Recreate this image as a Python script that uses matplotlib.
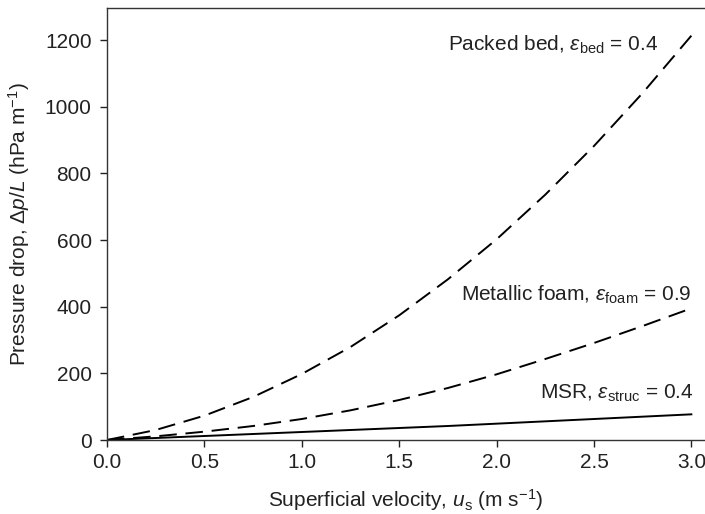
import matplotlib
matplotlib.use("Agg")
import matplotlib.pyplot as plt
import numpy as np

plt.rcParams['font.family'] = ['Liberation Sans', 'DejaVu Sans']
plt.rcParams['mathtext.fontset'] = 'custom'
plt.rcParams['mathtext.rm'] = 'Liberation Sans'
plt.rcParams['mathtext.it'] = 'Liberation Sans:italic'
plt.rcParams['mathtext.bf'] = 'Liberation Sans:bold'

velocity = [0.0, 0.25, 0.5, 0.75, 1.0, 1.25, 1.5, 1.75, 2.0, 2.25, 2.5, 2.75, 3.0]
packed_bed = [0, 30, 73, 129, 198, 279, 374, 482, 602, 736, 882, 1041, 1213]
metallic_foam = [0, 11, 25, 42, 63, 89, 120, 156, 197, 243, 291, 342, 395]
msr = [0, 6, 12, 18, 24, 30, 36, 42, 49, 56, 63, 70, 77]

x_ticks = [0.0, 0.5, 1.0, 1.5, 2.0, 2.5, 3.0]
y_ticks = [0, 200, 400, 600, 800, 1000, 1200]

FS = 15
TXT = '#222222'

fig = plt.figure(figsize=(7.05, 5.14), dpi=100)
ax = fig.add_axes([107/705, 74/514, 1 - 107/705, (440 - 8)/514])

ax.plot(velocity, packed_bed, color='black', lw=1.4, dashes=(9, 4.5))
ax.plot(velocity, metallic_foam, color='black', lw=1.4, dashes=(9, 4.5))
ax.plot(velocity, msr, color='black', lw=1.4)

ax.set_xlim(0, 3.07)
ax.set_ylim(0, 1296)
ax.set_xticks(x_ticks)
ax.set_xticklabels([f"{v:.1f}" for v in x_ticks])
ax.set_yticks(y_ticks)
ax.tick_params(direction='out', length=5, width=1, labelsize=FS, colors=TXT)
ax.tick_params(axis='x', pad=4)
ax.tick_params(axis='y', pad=6)
ax.spines['right'].set_visible(False)
for s in ['left', 'bottom', 'top']:
    ax.spines[s].set_color('#333333')
    ax.spines[s].set_linewidth(1.0)

ax.set_xlabel(r"Superficial velocity, $u_{\mathrm{s}}$ (m s$^{-1}$)", fontsize=FS, labelpad=11, color=TXT)
ax.set_ylabel(r"Pressure drop, $\Delta p/L$ (hPa m$^{-1}$)", fontsize=FS, labelpad=9, color=TXT)

ax.text(2.83, 1185, r"Packed bed, $\varepsilon_{\mathrm{bed}}$ = 0.4", ha='right', va='center', fontsize=FS, color=TXT)
ax.text(3.0, 435, r"Metallic foam, $\varepsilon_{\mathrm{foam}}$ = 0.9", ha='right', va='center', fontsize=FS, color=TXT)
ax.text(3.01, 141, r"MSR, $\varepsilon_{\mathrm{struc}}$ = 0.4", ha='right', va='center', fontsize=FS, color=TXT)

fig.savefig("out.png", dpi=100)
